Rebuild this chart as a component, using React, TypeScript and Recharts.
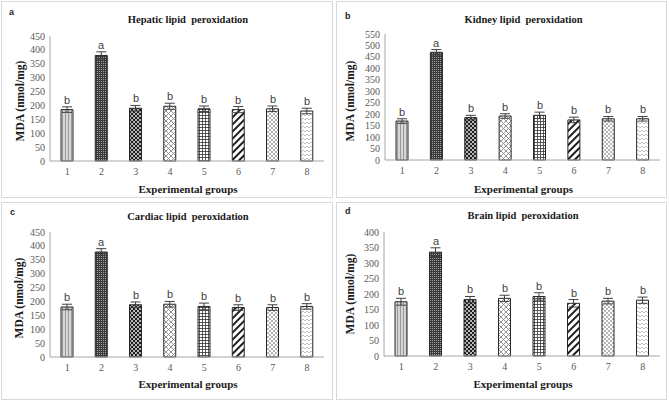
import { Bar, BarChart, Cell, ErrorBar, LabelList, XAxis, YAxis } from "recharts";

const groups = ["1", "2", "3", "4", "5", "6", "7", "8"];
const letters = ["b", "a", "b", "b", "b", "b", "b", "b"];

const hepaticMda = [185, 380, 190, 197, 188, 185, 188, 180];
const hepaticErr = [10, 13, 10, 11, 10, 11, 10, 10];
const kidneyMda = [170, 470, 185, 192, 195, 175, 180, 180];
const kidneyErr = [10, 12, 10, 10, 14, 12, 10, 10];
const cardiacMda = [180, 378, 188, 190, 182, 178, 178, 182];
const cardiacErr = [10, 12, 10, 10, 12, 10, 10, 10];
const brainMda = [175, 335, 182, 186, 192, 170, 177, 180];
const brainErr = [11, 14, 10, 10, 12, 12, 9, 10];

const hepaticTicks = [0, 50, 100, 150, 200, 250, 300, 350, 400, 450];
const kidneyTicks = [0, 50, 100, 150, 200, 250, 300, 350, 400, 450, 500, 550];
const brainTicks = [0, 50, 100, 150, 200, 250, 300, 350, 400];

const serif = "'Liberation Serif', 'Times New Roman', serif";
const sans = "'Liberation Sans', Arial, sans-serif";

type PanelProps = {
  id: string;
  letter: string;
  title: string;
  values: number[];
  errors: number[];
  ticks: number[];
  left: number;
  top: number;
  width: number;
  height: number;
  plotTop: number;
  plotBottom: number;
  plotLeft: number;
  plotRight: number;
  titleY: number;
  xLabelY: number;
  yLabelX: number;
  yLabelY: number;
  letterX: number;
  letterY: number;
};

function patternDefs(p: string) {
  return (
    <defs>
      <pattern id={`${p}-1`} width="3" height="4" patternUnits="userSpaceOnUse">
        <rect width="3" height="4" fill="#d6d6d6" />
        <rect x="1" width="1" height="4" fill="#9a9a9a" />
      </pattern>
      <pattern id={`${p}-2`} width="2" height="2" patternUnits="userSpaceOnUse">
        <rect width="2" height="2" fill="#3a3a3a" />
        <rect width="1" height="1" fill="#a0a0a0" />
      </pattern>
      <pattern id={`${p}-3`} width="4" height="4" patternUnits="userSpaceOnUse">
        <rect width="4" height="4" fill="#1e1e1e" />
        <circle cx="1" cy="1" r="0.9" fill="#ffffff" />
        <circle cx="3" cy="3" r="0.9" fill="#ffffff" />
      </pattern>
      <pattern id={`${p}-4`} width="5" height="5" patternUnits="userSpaceOnUse">
        <rect width="5" height="5" fill="#ffffff" />
        <path d="M0 0L5 5M5 0L0 5" stroke="#7a7a7a" strokeWidth="0.8" />
      </pattern>
      <pattern id={`${p}-5`} width="3" height="3" patternUnits="userSpaceOnUse">
        <rect width="3" height="3" fill="#ffffff" />
        <path d="M0 0.5H3M0.5 0V3" stroke="#333333" strokeWidth="0.8" />
      </pattern>
      <pattern id={`${p}-6`} width="5" height="5" patternUnits="userSpaceOnUse" patternTransform="rotate(45)">
        <rect width="5" height="5" fill="#ffffff" />
        <rect width="2" height="5" fill="#1e1e1e" />
      </pattern>
      <pattern id={`${p}-7`} width="4" height="4" patternUnits="userSpaceOnUse">
        <rect width="4" height="4" fill="#ffffff" />
        <circle cx="1" cy="1" r="0.7" fill="#333333" />
        <circle cx="3" cy="3" r="0.7" fill="#333333" />
      </pattern>
      <pattern id={`${p}-8`} width="4" height="4" patternUnits="userSpaceOnUse">
        <rect width="4" height="4" fill="#ffffff" />
        <path d="M0 3L2 1L4 3" stroke="#a8a8a8" strokeWidth="0.7" fill="none" />
      </pattern>
    </defs>
  );
}

function Panel(props: PanelProps) {
  const data = groups.map((g, i) => ({
    group: g,
    mda: props.values[i],
    err: props.errors[i],
    letter: letters[i],
  }));
  const yMax = props.ticks[props.ticks.length - 1];
  const plotH = props.plotBottom - props.plotTop;
  const xAxisH = 30;

  // letter sits just above the error bar cap
  const renderLetter = (lp: any) => {
    const { x, y, width, value, index } = lp;
    const errPx = (props.errors[index] * plotH) / yMax;
    return (
      <g opacity={0.99}>
        <text
          x={Math.round(Number(x) + Number(width) / 2)}
          y={Math.round(Number(y) - errPx - 3)}
          textAnchor="middle"
          fontFamily={sans}
          fontSize={11}
          fill="#404040"
        >
          {value}
        </text>
      </g>
    );
  };

  return (
    <div
      style={{
        position: "absolute",
        left: props.left,
        top: props.top,
        width: props.width,
        height: props.height,
        border: "1px solid #d9d9d9",
        boxSizing: "border-box",
        background: "#fff",
      }}
    >
      <div
        style={{
          position: "absolute",
          left: props.letterX - 4,
          top: props.letterY - 6,
          fontFamily: sans,
          fontWeight: 700,
          fontSize: 9,
          lineHeight: "12px",
          color: "#262626",
        }}
      >
        {props.letter}
      </div>
      <div
        style={{
          position: "absolute",
          left: 0,
          width: props.plotLeft + props.plotRight,
          top: props.titleY - 7,
          textAlign: "center",
          fontFamily: serif,
          fontWeight: 700,
          fontSize: 10.5,
          lineHeight: "14px",
          color: "#1a1a1a",
          whiteSpace: "pre",
        }}
      >
        {props.title}
      </div>
      <div
        style={{
          position: "absolute",
          left: props.yLabelX - 60,
          top: props.yLabelY - 8,
          width: 120,
          textAlign: "center",
          transform: "rotate(-90deg)",
          fontFamily: serif,
          fontWeight: 700,
          fontSize: 11.5,
          lineHeight: "16px",
          color: "#1a1a1a",
        }}
      >
        MDA (nmol/mg)
      </div>
      <div
        style={{
          position: "absolute",
          left: 0,
          width: props.plotLeft + props.plotRight,
          top: props.xLabelY - 8,
          textAlign: "center",
          fontFamily: serif,
          fontWeight: 700,
          fontSize: 11,
          lineHeight: "16px",
          color: "#1a1a1a",
        }}
      >
        Experimental groups
      </div>
      <div style={{ position: "absolute", left: -1, top: -1 }}>
        <BarChart
          width={props.width}
          height={props.height}
          data={data}
          barSize={12}
          margin={{
            top: props.plotTop,
            left: 4,
            right: props.width - props.plotRight,
            bottom: props.height - props.plotBottom - xAxisH,
          }}
        >
          {patternDefs(props.id)}
          <XAxis
            dataKey="group"
            height={xAxisH}
            tickLine={false}
            tickSize={5}
            tickMargin={2}
            axisLine={{ stroke: "#a6a6a6" }}
            tick={{ fontFamily: serif, fontSize: 10, fill: "#595959" }}
          />
          <YAxis
            width={props.plotLeft - 4}
            domain={[0, yMax]}
            ticks={props.ticks}
            interval={0}
            tickLine={false}
            tickSize={3}
            tickMargin={2}
            axisLine={{ stroke: "#a6a6a6" }}
            tick={{ fontFamily: serif, fontSize: 10, fill: "#595959" }}
          />
          <Bar dataKey="mda" stroke="#262626" strokeWidth={1} isAnimationActive={false}>
            {data.map((_, i) => (
              <Cell key={i} fill={`url(#${props.id}-${i + 1})`} />
            ))}
            <ErrorBar dataKey="err" width={5} stroke="#404040" strokeWidth={1} direction="y" />
            <LabelList dataKey="letter" content={renderLetter} />
          </Bar>
        </BarChart>
      </div>
    </div>
  );
}

export default function App() {
  return (
    <div style={{ position: "absolute", left: 0, top: 0, width: 669, height: 403, background: "#fff" }}>
      <Panel
        id="pa"
        letter="a"
        title="Hepatic lipid  peroxidation"
        values={hepaticMda}
        errors={hepaticErr}
        ticks={hepaticTicks}
        left={1}
        top={1}
        width={332}
        height={197}
        plotTop={35}
        plotBottom={160}
        plotLeft={49}
        plotRight={323}
        titleY={18}
        xLabelY={187}
        yLabelX={18}
        yLabelY={99}
        letterX={11}
        letterY={10}
      />
      <Panel
        id="pb"
        letter="b"
        title="Kidney lipid  peroxidation"
        values={kidneyMda}
        errors={kidneyErr}
        ticks={kidneyTicks}
        left={336}
        top={1}
        width={331}
        height={197}
        plotTop={33}
        plotBottom={159}
        plotLeft={49}
        plotRight={324}
        titleY={18}
        xLabelY={187}
        yLabelX={13}
        yLabelY={99}
        letterX={12}
        letterY={14}
      />
      <Panel
        id="pc"
        letter="c"
        title="Cardiac lipid  peroxidation"
        values={cardiacMda}
        errors={cardiacErr}
        ticks={hepaticTicks}
        left={1}
        top={202}
        width={332}
        height={198}
        plotTop={30}
        plotBottom={155}
        plotLeft={49}
        plotRight={323}
        titleY={14}
        xLabelY={181}
        yLabelX={17}
        yLabelY={95}
        letterX={12}
        letterY={9}
      />
      <Panel
        id="pd"
        letter="d"
        title="Brain lipid  peroxidation"
        values={brainMda}
        errors={brainErr}
        ticks={brainTicks}
        left={336}
        top={202}
        width={331}
        height={198}
        plotTop={30}
        plotBottom={154}
        plotLeft={48}
        plotRight={324}
        titleY={13}
        xLabelY={181}
        yLabelX={13}
        yLabelY={91}
        letterX={12}
        letterY={8}
      />
    </div>
  );
}
